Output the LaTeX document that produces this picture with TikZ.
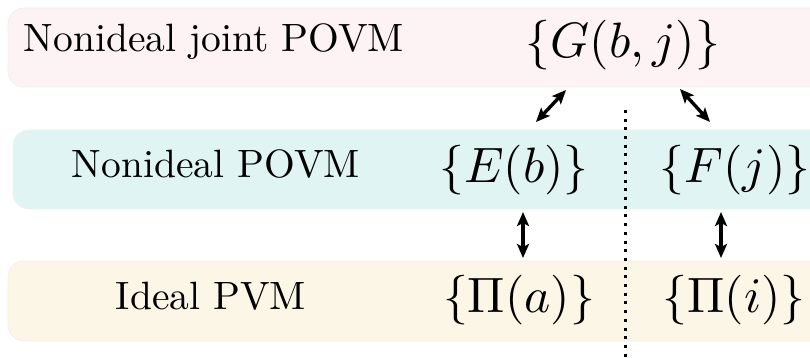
\documentclass[tikz,border=0pt]{standalone}
\usepackage{graphicx}
\usetikzlibrary{arrows.meta}
\definecolor{bandpink}{RGB}{253,243,244}
\definecolor{bandcyan}{RGB}{224,245,243}
\definecolor{bandyellow}{RGB}{251,246,230}
\newcommand{\txtbig}[1]{\scalebox{3.95}{#1}}
\newcommand{\mathbig}[1]{\scalebox{4.97}{$#1$}}
\tikzset{
  band/.style={rounded corners=16pt, draw=black!6, line width=0.8pt},
  lbl/.style={inner sep=0pt},
  dbl/.style={{Stealth[length=14pt,width=12pt,inset=3pt]}-{Stealth[length=14pt,width=12pt,inset=3pt]}, line width=3.4pt},
}
\begin{document}
\begin{tikzpicture}[x=1pt,y=-1pt]
\useasboundingbox (0,0) rectangle (810,358);
\begin{scope}
\clip (0,0) rectangle (810,358);
\fill[bandpink, band] (8,8) rectangle (840,87);
\fill[bandcyan, band] (13,130) rectangle (840,209);
\fill[bandyellow, band] (8,261) rectangle (840,341);
\end{scope}
\node[lbl] (t1) at (214,42) {\txtbig{Nonideal joint POVM}};
\node[lbl] (t2) at (216,164) {\txtbig{Nonideal POVM}};
\node[lbl] (t3) at (211,296) {\txtbig{Ideal PVM}};
\node[lbl] (G) at (623,45) {\mathbig{\{G(b,j)\}}};
\node[lbl] (E) at (514,170) {\mathbig{\{E(b)\}}};
\node[lbl] (F) at (735,170) {\mathbig{\{F(j)\}}};
\node[lbl] (Pa) at (519,300) {\mathbig{\{\Pi(a)\}}};
\node[lbl] (Pi) at (734,300) {\mathbig{\{\Pi(i)\}}};
\coordinate (d1) at (625,110);
\coordinate (d2) at (625,358);
\draw[line width=3pt, dash pattern=on 3pt off 5.7pt] (d1) -- (d2);
\coordinate (a1) at (566,90);
\coordinate (a2) at (536,122);
\coordinate (b1) at (680,89);
\coordinate (b2) at (710,122);
\coordinate (c1) at (523,212);
\coordinate (c2) at (523,258);
\coordinate (e1) at (721,212);
\coordinate (e2) at (721,258);
\draw[dbl] (a1) -- (a2);
\draw[dbl] (b1) -- (b2);
\draw[dbl] (c1) -- (c2);
\draw[dbl] (e1) -- (e2);
\end{tikzpicture}
\end{document}
